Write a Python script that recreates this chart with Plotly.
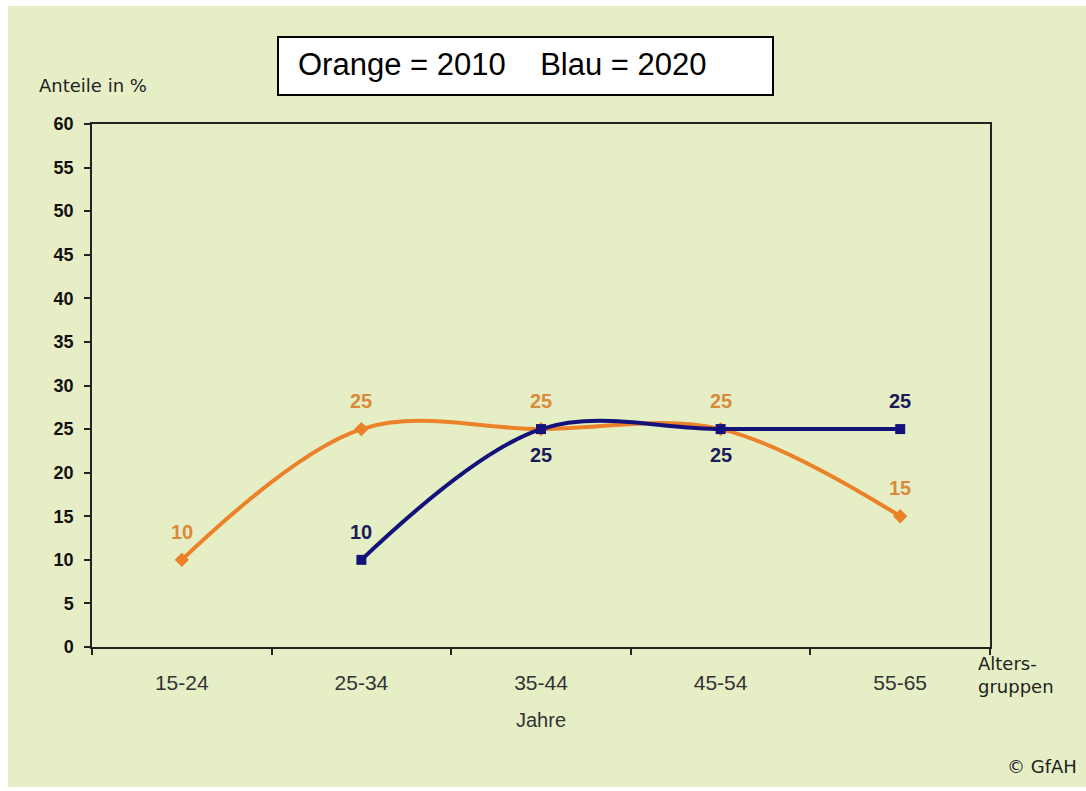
import plotly.graph_objects as go

categories = ["15-24", "25-34", "35-44", "45-54", "55-65"]
orange_2010 = [10, 25, 25, 25, 15]
blue_2020 = [None, 10, 25, 25, 25]
blue_label_pos = [None, "above", "below", "below", "above"]
y_ticks = list(range(0, 61, 5))

W, H = 1086, 791
L, R, T, B = 92, 990, 124, 647
BG = "#E6EEC6"
ORANGE = "#EB8129"
ORANGE_TXT = "#D98A3C"
BLUE = "#12127A"
BLUE_TXT = "#1B1B5A"


def px(x):
    return (x - L) / (R - L)


def py(y):
    return (B - y) / (B - T)


fig = go.Figure()
fig.add_trace(go.Scatter(
    x=categories, y=orange_2010, mode="lines+markers",
    line=dict(color=ORANGE, width=4, shape="spline", smoothing=1.0),
    marker=dict(symbol="diamond", size=11, color=ORANGE),
    showlegend=False, hoverinfo="skip",
))
fig.add_trace(go.Scatter(
    x=categories, y=blue_2020, mode="lines+markers",
    line=dict(color=BLUE, width=4, shape="spline", smoothing=1.0),
    marker=dict(symbol="square", size=10, color=BLUE),
    showlegend=False, hoverinfo="skip", connectgaps=False,
))

LBL = dict(family="Liberation Sans", size=20, weight="bold")
annotations = []
for c, v in zip(categories, orange_2010):
    annotations.append(dict(
        x=c, y=v, xref="x", yref="y", text=str(v), showarrow=False,
        yshift=28, font=dict(LBL, color=ORANGE_TXT),
    ))
for c, v, p in zip(categories, blue_2020, blue_label_pos):
    if v is None:
        continue
    annotations.append(dict(
        x=c, y=v, xref="x", yref="y", text=str(v), showarrow=False,
        yshift=28 if p == "above" else -26,
        font=dict(LBL, color=BLUE_TXT),
    ))

TXT = "#222222"
annotations += [
    dict(x=px(37), y=py(86), xref="paper", yref="paper", text="Anteile in %",
         showarrow=False, xanchor="left", yanchor="middle",
         font=dict(family="DejaVu Sans", size=18, color=TXT)),
    dict(x=px(541), y=py(720), xref="paper", yref="paper", text="Jahre",
         showarrow=False, xanchor="center", yanchor="middle",
         font=dict(family="Liberation Sans", size=20, color="#333333")),
    dict(x=px(976), y=py(675), xref="paper", yref="paper", text="Alters-<br>gruppen",
         showarrow=False, xanchor="left", yanchor="middle", align="left",
         font=dict(family="DejaVu Sans", size=18, color=TXT)),
    dict(x=px(1079), y=py(766), xref="paper", yref="paper", text="© GfAH",
         showarrow=False, xanchor="right", yanchor="middle",
         font=dict(family="DejaVu Sans", size=18, color=TXT)),
    dict(x=px(296), y=py(65), xref="paper", yref="paper", text="Orange = 2010    Blau = 2020",
         showarrow=False, xanchor="left", yanchor="middle",
         font=dict(family="Liberation Sans", size=31, color="#000000")),
]

shapes = [
    dict(type="rect", xref="paper", yref="paper", x0=px(8), x1=px(1086), y0=py(787), y1=py(6),
         fillcolor=BG, line=dict(width=0), layer="below"),
    dict(type="rect", xref="paper", yref="paper", x0=px(278), x1=px(773), y0=py(95), y1=py(37),
         fillcolor="white", line=dict(color="black", width=2), layer="above"),
]

fig.update_layout(
    width=W, height=H,
    margin=dict(l=L, r=W - R, t=T, b=H - B),
    paper_bgcolor="white", plot_bgcolor=BG,
    annotations=annotations, shapes=shapes,
    font=dict(family="Liberation Sans"),
)
fig.update_xaxes(
    type="category", range=[-0.5, 4.5], tickson="boundaries",
    ticks="outside", ticklen=6, tickwidth=1.5, tickcolor="#222222",
    showline=True, linecolor="#222222", linewidth=1.5, mirror=True,
    showgrid=False, zeroline=False, ticklabelstandoff=16,
    tickfont=dict(family="Liberation Sans", size=21, color="#333333"),
)
fig.update_yaxes(
    range=[0, 60], tickvals=y_ticks, ticks="outside", ticklen=6, tickwidth=1.5,
    tickcolor="#222222", showline=True, linecolor="#222222", linewidth=1.5, mirror=True,
    showgrid=False, zeroline=False, ticklabelstandoff=7,
    tickfont=dict(family="Liberation Sans", size=18, color="#111111", weight="bold"),
)

fig.write_html("out.html")
